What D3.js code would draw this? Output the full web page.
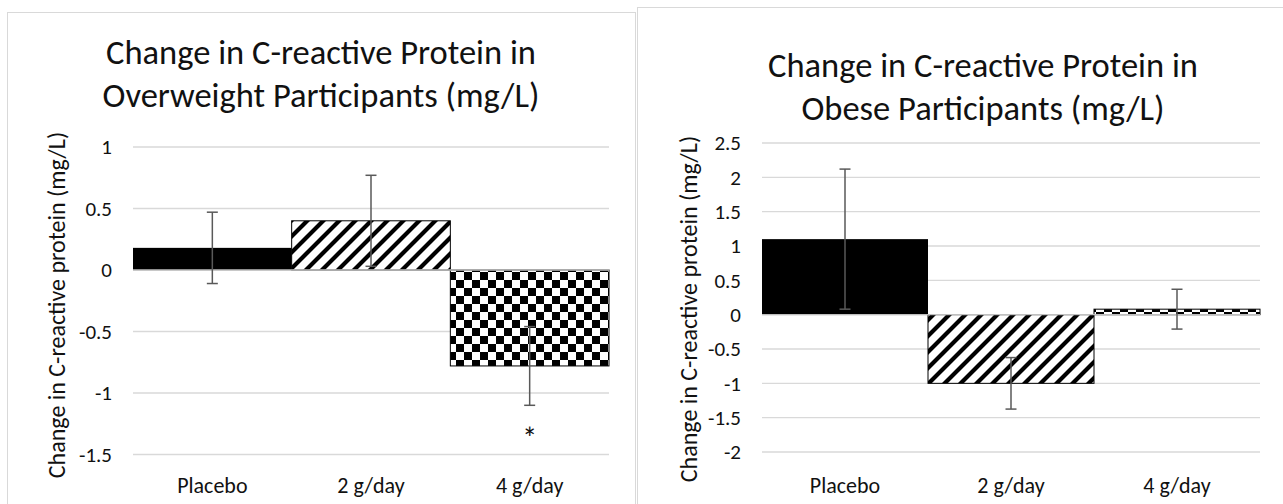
<!DOCTYPE html>
<html>
<head>
<meta charset="utf-8">
<script src="https://cdn.jsdelivr.net/npm/d3@7"></script>
<style>
  body { margin: 0; background: #fff; }
  text { font-family: Carlito, Calibri, Lato, sans-serif; fill: #111; }
</style>
</head>
<body>
<script>
// categories and values
var categories = ["Placebo", "2 g/day", "4 g/day"];

var overweightMeans  = [0.18, 0.40, -0.78];
var overweightErrors = [0.29, 0.37, 0.32];
var overweightTicks  = [1, 0.5, 0, -0.5, -1, -1.5];

var obeseMeans  = [1.10, -1.00, 0.08];
var obeseErrors = [1.02, 0.375, 0.29];
var obeseTicks  = [2.5, 2, 1.5, 1, 0.5, 0, -0.5, -1, -1.5, -2];

var yLabel = "Change in C-reactive protein (mg/L)";

var svg = d3.select("body").append("svg")
    .attr("width", 1283)
    .attr("height", 504);

// fill patterns: solid, wide upward diagonal, large checker board
var defs = svg.append("defs");

var hatch = defs.append("pattern")
    .attr("id", "hatch")
    .attr("patternUnits", "userSpaceOnUse")
    .attr("width", 16).attr("height", 16);
hatch.append("rect").attr("width", 16).attr("height", 16).attr("fill", "#fff");
hatch.append("path")
    .attr("d", "M-4,4L4,-4M0,16L16,0M12,20L20,12")
    .attr("stroke", "#000")
    .attr("stroke-width", 4.2);

var checker = defs.append("pattern")
    .attr("id", "checker")
    .attr("patternUnits", "userSpaceOnUse")
    .attr("width", 16).attr("height", 16);
checker.append("rect").attr("width", 16).attr("height", 16).attr("fill", "#fff");
checker.append("rect").attr("width", 8).attr("height", 8).attr("fill", "#000");
checker.append("rect").attr("x", 8).attr("y", 8).attr("width", 8).attr("height", 8).attr("fill", "#000");

var fills = ["#000", "url(#hatch)", "url(#checker)"];
var outlines = ["none", "#000", "#000"];

function drawPanel(p) {
  var g = svg.append("g");

  // chart area border
  g.append("rect")
      .attr("x", p.box[0] + 0.5).attr("y", p.box[1] + 0.5)
      .attr("width", p.box[2]).attr("height", p.box[3])
      .attr("fill", "#fff")
      .attr("stroke", "#d9d9d9");

  var x = d3.scaleBand().domain(categories).range([p.left, p.right]).padding(0);
  var y = d3.scaleLinear().domain(p.domain).range([p.bottom, p.top]);

  // gridlines
  g.selectAll(".grid").data(p.ticks).enter().append("line")
      .attr("x1", p.left).attr("x2", p.right)
      .attr("y1", function(d) { return y(d); })
      .attr("y2", function(d) { return y(d); })
      .attr("stroke", "#d9d9d9")
      .attr("stroke-width", 1.3);

  // tick labels
  g.selectAll(".tick").data(p.ticks).enter().append("text")
      .attr("x", p.left - 21)
      .attr("y", function(d) { return y(d); })
      .attr("dy", "0.35em")
      .attr("text-anchor", "end")
      .style("font-size", "21px")
      .text(function(d) { return d; });

  // bars
  g.selectAll(".bar").data(p.means).enter().append("rect")
      .attr("x", function(d, i) { return x(categories[i]); })
      .attr("y", function(d) { return y(Math.max(0, d)); })
      .attr("width", x.bandwidth())
      .attr("height", function(d) { return Math.abs(y(d) - y(0)); })
      .attr("fill", function(d, i) { return fills[i]; })
      .attr("stroke", function(d, i) { return outlines[i]; })
      .attr("stroke-width", 1);

  // horizontal axis line
  g.append("line")
      .attr("x1", p.left).attr("x2", p.right)
      .attr("y1", y(0)).attr("y2", y(0))
      .attr("stroke", "#bfbfbf")
      .attr("stroke-width", 1.3);

  // error bars
  var cx = function(i) { return x(categories[i]) + x.bandwidth() / 2; };
  var eb = g.selectAll(".err").data(p.means).enter().append("g").attr("stroke", "#595959").attr("stroke-width", 1.5);
  eb.append("line")
      .attr("x1", function(d, i) { return cx(i); })
      .attr("x2", function(d, i) { return cx(i); })
      .attr("y1", function(d, i) { return y(d + p.errors[i]); })
      .attr("y2", function(d, i) { return y(d - p.errors[i]); });
  eb.append("line")
      .attr("x1", function(d, i) { return cx(i) - 5.5; })
      .attr("x2", function(d, i) { return cx(i) + 5.5; })
      .attr("y1", function(d, i) { return y(d + p.errors[i]); })
      .attr("y2", function(d, i) { return y(d + p.errors[i]); });
  eb.append("line")
      .attr("x1", function(d, i) { return cx(i) - 5.5; })
      .attr("x2", function(d, i) { return cx(i) + 5.5; })
      .attr("y1", function(d, i) { return y(d - p.errors[i]); })
      .attr("y2", function(d, i) { return y(d - p.errors[i]); });

  // category labels
  g.selectAll(".cat").data(categories).enter().append("text")
      .attr("x", function(d) { return x(d) + x.bandwidth() / 2; })
      .attr("y", p.catY)
      .attr("dy", "0.35em")
      .attr("text-anchor", "middle")
      .style("font-size", "22px")
      .text(function(d) { return d; });

  // value axis title
  g.append("text")
      .attr("transform", "translate(" + p.yTitle[0] + "," + p.yTitle[1] + ") rotate(-90)")
      .attr("dy", "0.35em")
      .attr("text-anchor", "middle")
      .style("font-size", "24px")
      .text(yLabel);

  // chart title, two lines
  p.title.forEach(function(t, i) {
    g.append("text")
        .attr("x", p.titleX)
        .attr("y", p.titleY[i])
        .attr("text-anchor", "middle")
        .style("font-size", "34.5px")
        .text(t);
  });

  // significance marker under the bar
  if (p.star) {
    g.append("text")
        .attr("x", cx(p.star))
        .attr("y", y(p.starValue))
        .attr("dy", "0.6em")
        .attr("text-anchor", "middle")
        .style("font-size", "30px")
        .text("*");
  }
}

drawPanel({
  box: [7, 12, 628, 600],
  left: 133, right: 609, top: 147, bottom: 454.5,
  domain: [-1.5, 1],
  ticks: overweightTicks,
  means: overweightMeans,
  errors: overweightErrors,
  catY: 485,
  yTitle: [57, 305],
  title: ["Change in C-reactive Protein in", "Overweight Participants (mg/L)"],
  titleX: 321, titleY: [64, 107],
  star: 2, starValue: -1.31
});

drawPanel({
  box: [637, 7, 700, 600],
  left: 762, right: 1260, top: 143, bottom: 452,
  domain: [-2, 2.5],
  ticks: obeseTicks,
  means: obeseMeans,
  errors: obeseErrors,
  catY: 485,
  yTitle: [689, 309],
  title: ["Change in C-reactive Protein in", "Obese Participants (mg/L)"],
  titleX: 983, titleY: [77, 120]
});
</script>
</body>
</html>
